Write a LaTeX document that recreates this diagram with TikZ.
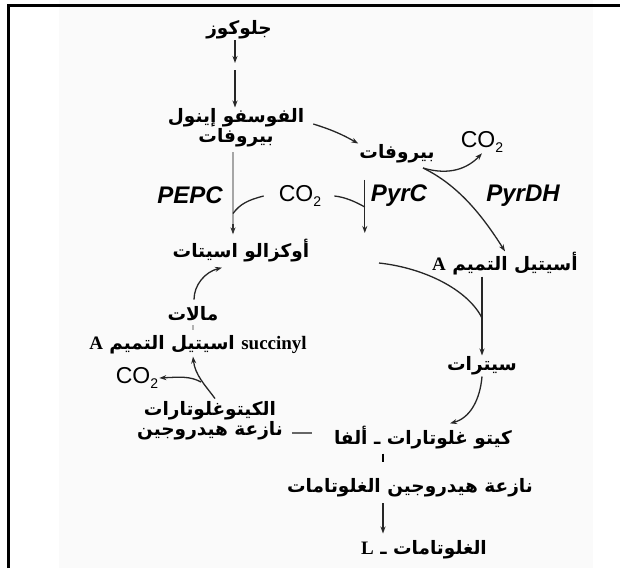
\documentclass[tikz,border=0pt]{standalone}
\usepackage{fontspec}
\setmainfont{Liberation Serif}
\newfontfamily\arabicfont[Script=Arabic]{DejaVu Sans}
\newfontfamily\sansfam{Liberation Sans}
\TeXXeTstate=1
\usetikzlibrary{arrows.meta,calc}
\newcommand\artxt[1]{\beginR #1\endR}
\newcommand\latb[1]{\beginL{\rmfamily\bfseries\fontsize{19}{20}\selectfont #1}\endL}
\newcommand\cotwo{CO\raisebox{-0.35ex}{\fontsize{14}{14}\selectfont 2}}
\begin{document}
\begin{tikzpicture}[x=1pt,y=-1pt,
  ar/.style={font=\arabicfont\bfseries\fontsize{18.5}{20}\selectfont, inner sep=1pt, align=center},
  gas/.style={font=\sansfam\fontsize{23}{26}\selectfont, inner sep=1pt},
  enz/.style={font=\sansfam\bfseries\itshape\fontsize{24}{28}\selectfont, inner sep=1pt},
  arr/.style={line width=1.3pt, draw=black!85, -{Stealth[length=7pt,width=5pt]}},
  ln/.style={line width=1.3pt, draw=black!85}
]
\useasboundingbox (0,0) rectangle (620,568);
\fill[black!2] (59,0) rectangle (593,568);
\draw[line width=3pt] (8,568) -- (8,5) -- (620,5);

% nodes
\node[ar] (glc) at (239,30) {\artxt{جلوكوز}};
\node[ar] (pep) at (236,128) {\artxt{الفوسفو إينول}\\\artxt{بيروفات}};
\node[ar] (pyr) at (397,154) {\artxt{بيروفات}};
\node[gas] (co2a) at (482,142) {\cotwo};
\node[enz] (pepc) at (190,195) {PEPC};
\node[gas] (co2b) at (300,196) {\cotwo};
\node[enz] (pyrc) at (399,196) {PyrC};
\node[enz] (pyrdh) at (523,196) {PyrDH};
\node[ar] (oaa) at (241,251) {\artxt{أوكزالو اسيتات}};
\node[ar] (acoa) at (505,264) {\artxt{أسيتيل التميم \latb{A}}};
\node[ar] (mal) at (193,314) {\artxt{مالات}};
\node[ar] (suc) at (198,345) {\artxt{\latb{succinyl} اسيتيل التميم \latb{A}}};
\node[gas] (co2c) at (137,378) {\cotwo};
\node[ar] (kgdh) at (210,421) {\artxt{الكيتوغلوتارات}\\\artxt{نازعة هيدروجين}};
\node[ar] (cit) at (482,366) {\artxt{سيترات}};
\node[ar] (akg) at (423,438) {\artxt{كيتو غلوتارات ـ ألفا}};
\node[ar] (gdh) at (410,488) {\artxt{نازعة هيدروجين الغلوتامات}};
\node[ar] (glu) at (424,550) {\artxt{الغلوتامات ـ \latb{L}}};

% glucose -> PEP
\coordinate (g1) at (235,63);
\coordinate (g2) at (235,70);
\draw[arr] (glc.south -| g1) -- (g1);
\draw[arr] (g2) -- (g2 |- pep.north);
% PEP -> pyruvate
\draw[arr] ($(pep.east)+(8,-4)$) to[bend left=6] (pyr.north west);
% pyruvate -> CO2 and PyrDH
\coordinate (br) at (423,168);
\draw[arr] (br) .. controls (450,176) and (468,168) .. (co2a.south);
\draw[arr] (br) .. controls (458,185) and (482,215) .. (acoa.north);
% PEPC line
\draw[line width=2pt, draw=black!35] ($(pep.south)+(-3,4)$) -- ($(oaa.north)+(-8,-12)$);
\draw[arr, draw=black!80] ($(oaa.north)+(-8,-14)$) -- ($(oaa.north)+(-8,-4)$);
\draw[ln] ($(co2b.west)+(-14,0)$) .. controls (248,200) and (240,204) .. ($(pep.south)+(-3,65)$);
% PyrC
\draw[arr] ($(pyrc.north west)+(-5,-4)$) -- ($(pyrc.west)+(-5,37)$);
\draw[ln] ($(co2b.east)+(12,0)$) .. controls (345,197) and (356,202) .. ($(pyrc.west)+(-5,11)$);
% acetyl-CoA -> citrate
\coordinate (j) at (482,318);
\draw[ln] (379,263) .. controls (425,268) and (468,290) .. (j);
\draw[arr] (acoa.south -| cit.north) -- (cit.north);
% citrate -> aKG
\draw[arr] (cit.south) .. controls (480,400) and (470,418) .. ($(akg.north)+(27,-2)$);
% aKG -> GDH -> glutamate
\draw[line width=2.2pt] ($(akg.south)+(-40,3)$) -- ($(akg.south)+(-40,11)$);
\draw[arr] ($(gdh.south)+(-27,5)$) -- ($(glu.north)+(-41,-6)$);
% aKG -> KGDH dash
\draw[line width=1.2pt, draw=black!60] ($(kgdh.east)+(8,12)$) -- ($(kgdh.east)+(28,12)$);
% KGDH -> succinyl-CoA, CO2
\draw[arr] ($(kgdh.north)+(5,-2)$) .. controls (205,385) and (195,375) .. ($(suc.south)+(-5,1)$);
\draw[arr] (201,382) .. controls (190,376) and (180,377) .. (co2c.east);
% malate tick and malate -> OAA
\draw[line width=1.5pt, draw=black!30] ($(mal.south)+(0,3)$) -- ($(mal.south)+(0,8)$);
\draw[arr] ($(mal.north)+(1,-6)$) .. controls (194,285) and (205,272) .. ($(oaa.south)+(-19,4)$);
\end{tikzpicture}
\end{document}
